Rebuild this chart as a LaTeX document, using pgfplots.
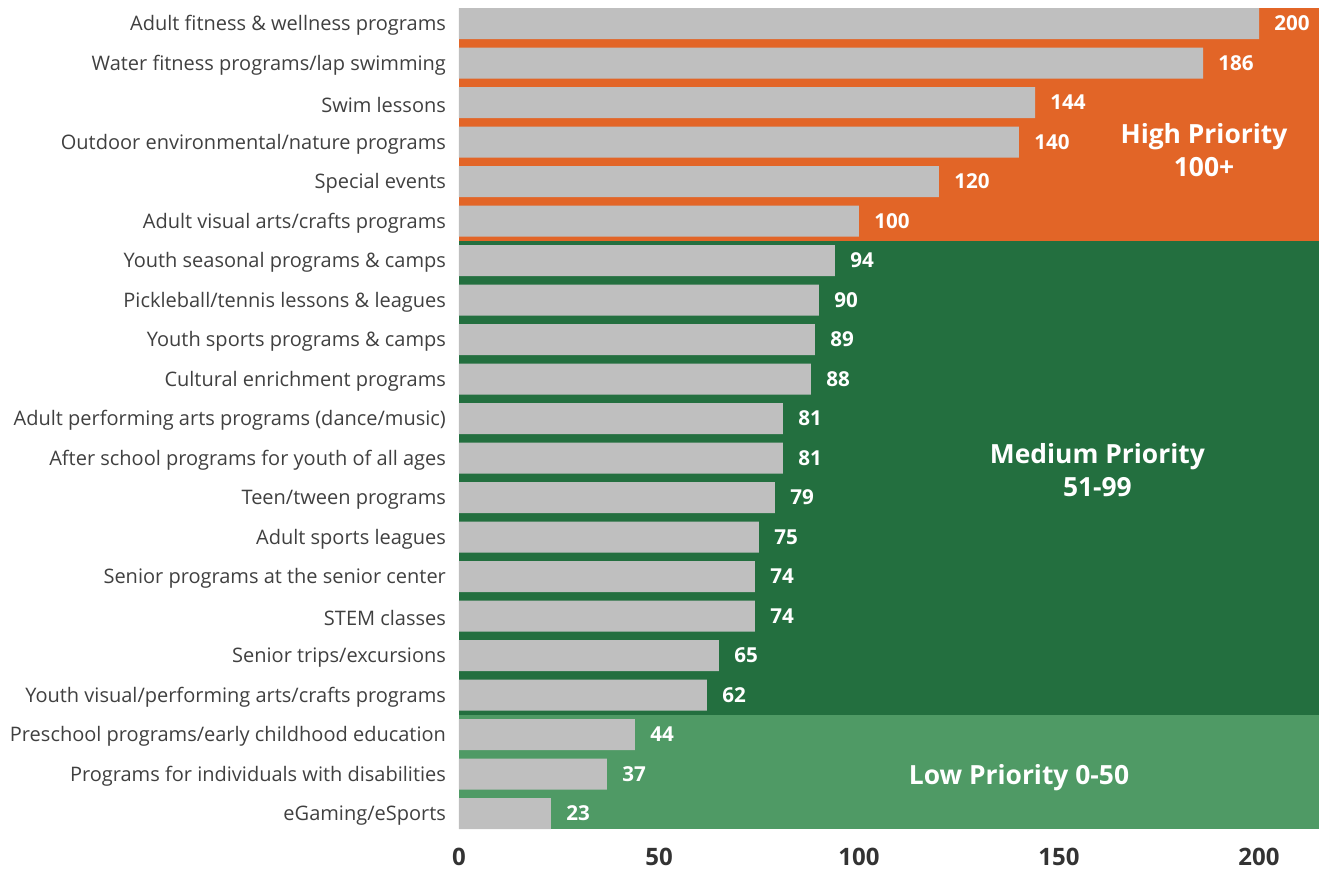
\documentclass[border=0pt]{standalone}
\usepackage{pgfplots}
\pgfplotsset{compat=1.18}
\usepackage{fontspec}
\setmainfont{Open Sans}
\definecolor{hiorange}{HTML}{E26527}
\definecolor{medgreen}{HTML}{236F3F}
\definecolor{lowgreen}{HTML}{4F9A65}
\definecolor{bargrey}{HTML}{BFBFBF}
\definecolor{labgrey}{HTML}{404040}
\definecolor{tickgrey}{HTML}{333333}
\begin{document}
\begin{tikzpicture}
\begin{axis}[
  at={(0,0)}, anchor=south west,
  scale only axis,
  width=430pt, height=410.5pt,
  xmin=0, xmax=215,
  ymin=-0.3925, ymax=20.3925,
  y dir=reverse,
  axis line style={draw=none},
  major tick length=0pt,
  xtick={0,50,100,150,200},
  ytick={0,...,20},
  yticklabels={
    Adult fitness \& wellness programs,
    Water fitness programs/lap swimming,
    Swim lessons,
    Outdoor environmental/nature programs,
    Special events,
    Adult visual arts/crafts programs,
    Youth seasonal programs \& camps,
    Pickleball/tennis lessons \& leagues,
    Youth sports programs \& camps,
    Cultural enrichment programs,
    Adult performing arts programs (dance/music),
    After school programs for youth of all ages,
    Teen/tween programs,
    Adult sports leagues,
    Senior programs at the senior center,
    STEM classes,
    Senior trips/excursions,
    Youth visual/performing arts/crafts programs,
    Preschool programs/early childhood education,
    Programs for individuals with disabilities,
    eGaming/eSports},
  yticklabel style={font=\fontsize{10}{12}\selectfont, text=labgrey, xshift=-3pt, yshift=-1pt},
  xticklabel style={font=\fontsize{12}{14}\selectfont\bfseries, text=tickgrey, yshift=-6pt},
  /pgf/number format/assume math mode=true,
  clip=false,
]
\addplot[fill=hiorange, draw=none] coordinates {(0,-0.3925) (215,-0.3925) (215,5.5) (0,5.5)} -- cycle;
\addplot[fill=medgreen, draw=none] coordinates {(0,5.5) (215,5.5) (215,17.5) (0,17.5)} -- cycle;
\addplot[fill=lowgreen, draw=none] coordinates {(0,17.5) (215,17.5) (215,20.3925) (0,20.3925)} -- cycle;
\addplot[xbar, bar width=15.5pt, fill=bargrey, draw=none,
  nodes near coords,
  nodes near coords style={font=\fontsize{10.3}{12}\selectfont\bfseries, text=white, anchor=west, inner sep=0pt, xshift=7.5pt},
] coordinates {
(200,0) (186,1) (144,2) (140,3) (120,4) (100,5)
(94,6) (90,7) (89,8) (88,9) (81,10) (81,11) (79,12) (75,13) (74,14) (74,15) (65,16) (62,17)
(44,18) (37,19) (23,20)};
\node[font=\fontsize{13.2}{16.5}\selectfont\bfseries, text=white, align=center] at (axis cs:186.25,3.2) {High Priority\\100+};
\node[font=\fontsize{13.2}{16.5}\selectfont\bfseries, text=white, align=center] at (axis cs:159.6,11.3) {Medium Priority\\51-99};
\node[font=\fontsize{13.2}{16.5}\selectfont\bfseries, text=white, align=center] at (axis cs:140,19.1) {Low Priority 0-50};
\end{axis}
\pgfresetboundingbox
\useasboundingbox (-229.5pt,-22pt) rectangle (432pt,414.5pt);
\end{tikzpicture}
\end{document}
